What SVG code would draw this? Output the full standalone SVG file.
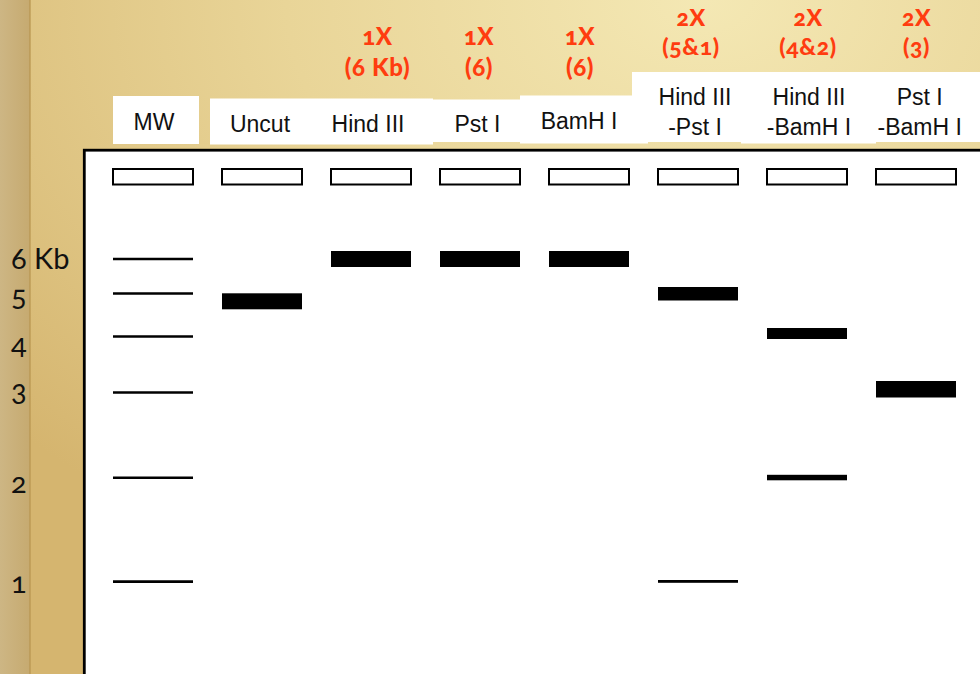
<svg xmlns="http://www.w3.org/2000/svg" width="980" height="674" viewBox="0 0 980 674">
<defs>
<radialGradient id="bg" cx="0.72" cy="0" r="0.95" fx="0.72" fy="0">
<stop offset="0" stop-color="#f4e8b4"/>
<stop offset="0.45" stop-color="#e9d598"/>
<stop offset="1" stop-color="#d5b56f"/>
</radialGradient>
<linearGradient id="strip" x1="0" y1="0" x2="1" y2="0">
<stop offset="0" stop-color="#cdb684"/>
<stop offset="1" stop-color="#c6aa70"/>
</linearGradient>
<style>
.lbl{font-family:"Liberation Sans",Arial,sans-serif;font-size:23px;fill:#111;text-anchor:middle}
.red{font-family:Lato,"Noto Sans",sans-serif;font-weight:900;fill:#ff3c10;text-anchor:middle;letter-spacing:0.6px;font-variant-numeric:oldstyle-nums;font-feature-settings:"onum" 1}
.num{font-family:Lato,"Noto Sans",sans-serif;font-size:29px;fill:#111;font-variant-numeric:oldstyle-nums;font-feature-settings:"onum" 1}
.box{fill:#fff}
.well{fill:#fff;stroke:#000;stroke-width:2}
.band{fill:#000}
.mw{stroke:#000;stroke-width:2.6}
</style>
</defs>
<rect width="980" height="674" fill="url(#bg)"/>
<rect x="0" y="0" width="30" height="674" fill="url(#strip)"/>
<rect x="29" y="0" width="2" height="674" fill="#b8954f" opacity="0.6"/>

<!-- label boxes -->
<g id="label-boxes">
<rect class="box" x="113" y="96" width="86" height="48"/>
<rect class="box" x="210" y="98.5" width="223" height="46"/>
<rect class="box" x="433" y="99.5" width="88" height="42.5"/>
<rect class="box" x="520" y="95.5" width="128" height="48"/>
<rect class="box" x="632" y="72" width="348" height="70"/>
<rect class="box" x="741" y="140" width="135" height="3.5"/>
</g>

<!-- gel -->
<rect id="gel" x="84.3" y="150.2" width="1000" height="600" fill="#fff" stroke="#000" stroke-width="2.8"/>

<!-- size scale -->
<g id="scale">
<text class="num" x="11" y="269">6 Kb</text>
<text class="num" x="11" y="306">5</text>
<text class="num" x="11" y="354">4</text>
<text class="num" x="11" y="401">3</text>
<text class="num" x="11" y="493">2</text>
<text class="num" x="11" y="593">1</text>
</g>

<g id="lane-mw">
<text class="lbl" x="154" y="130">MW</text>
<rect class="well" x="113" y="169" width="80" height="15.5"/>
<line class="mw" x1="113" y1="259" x2="193" y2="259"/>
<line class="mw" x1="113" y1="293.5" x2="193" y2="293.5"/>
<line class="mw" x1="113" y1="336.5" x2="193" y2="336.5"/>
<line class="mw" x1="113" y1="392.5" x2="193" y2="392.5"/>
<line class="mw" x1="113" y1="477.8" x2="193" y2="477.8"/>
<line class="mw" x1="113" y1="581.6" x2="193" y2="581.6"/>
</g>

<g id="lane-uncut">
<text class="lbl" x="260" y="131.5">Uncut</text>
<rect class="well" x="222" y="169" width="80" height="15.5"/>
<rect class="band" x="222" y="293.3" width="80" height="16"/>
</g>

<g id="lane-hindiii">
<text class="red" font-size="24" x="377.5" y="45">1X</text>
<text class="red" font-size="24" x="377.5" y="76">(6 Kb)</text>
<text class="lbl" x="368" y="131.5">Hind III</text>
<rect class="well" x="331" y="169" width="80" height="15.5"/>
<rect class="band" x="331" y="251" width="80" height="16"/>
</g>

<g id="lane-psti">
<text class="red" font-size="24" x="479" y="45">1X</text>
<text class="red" font-size="24" x="479" y="76">(6)</text>
<text class="lbl" x="477.5" y="131.5">Pst I</text>
<rect class="well" x="440" y="169" width="80" height="15.5"/>
<rect class="band" x="440" y="251" width="80" height="16"/>
</g>

<g id="lane-bamhi">
<text class="red" font-size="24" x="580" y="45">1X</text>
<text class="red" font-size="24" x="580" y="76">(6)</text>
<text class="lbl" x="579" y="129.3">BamH I</text>
<rect class="well" x="549" y="169" width="80" height="15.5"/>
<rect class="band" x="549" y="251" width="80" height="16"/>
</g>

<g id="lane-hindiii-psti">
<text class="red" font-size="23" x="691" y="26">2X</text>
<text class="red" font-size="23" x="691" y="55">(5&amp;1)</text>
<text class="lbl" x="695" y="105.3">Hind III</text>
<text class="lbl" x="695" y="135">-Pst I</text>
<rect class="well" x="658" y="169" width="80" height="15.5"/>
<rect class="band" x="658" y="287" width="80" height="13.5"/>
<rect class="band" x="658" y="580" width="80" height="2.8"/>
</g>

<g id="lane-hindiii-bamhi">
<text class="red" font-size="23" x="808" y="26">2X</text>
<text class="red" font-size="23" x="808" y="55">(4&amp;2)</text>
<text class="lbl" x="809" y="105.3">Hind III</text>
<text class="lbl" x="809" y="135">-BamH I</text>
<rect class="well" x="767" y="169" width="80" height="15.5"/>
<rect class="band" x="767" y="328" width="80" height="11"/>
<rect class="band" x="767" y="474.8" width="80" height="5.5"/>
</g>

<g id="lane-psti-bamhi">
<text class="red" font-size="23" x="916.5" y="26">2X</text>
<text class="red" font-size="23" x="916.5" y="55">(3)</text>
<text class="lbl" x="919.7" y="105.3">Pst I</text>
<text class="lbl" x="919.7" y="135">-BamH I</text>
<rect class="well" x="876" y="169" width="80" height="15.5"/>
<rect class="band" x="876" y="381" width="80" height="16.5"/>
</g>
</svg>
